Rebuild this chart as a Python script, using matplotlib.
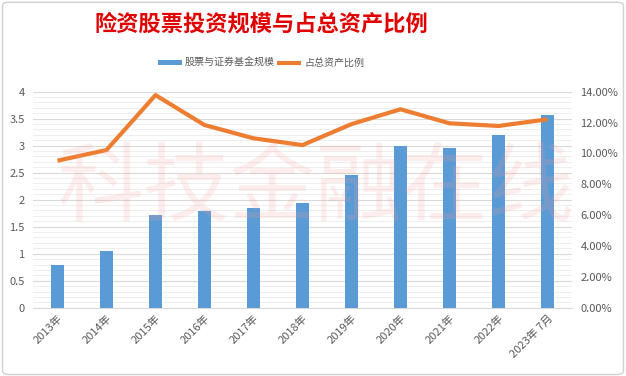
import matplotlib
matplotlib.use("Agg")
import matplotlib.pyplot as plt
from matplotlib.ticker import MultipleLocator, FuncFormatter
from matplotlib.patches import FancyBboxPatch

plt.rcParams['font.family'] = ['Noto Sans CJK SC', 'DejaVu Sans']

years = ['2013年', '2014年', '2015年', '2016年', '2017年', '2018年',
         '2019年', '2020年', '2021年', '2022年', '2023年 7月']
scale = [0.79, 1.05, 1.71, 1.79, 1.85, 1.94, 2.46, 2.99, 2.96, 3.20, 3.57]
ratio = [0.0953, 0.1022, 0.1378, 0.1184, 0.1098, 0.1054, 0.1190, 0.1286,
         0.1195, 0.1178, 0.1221]

blue = '#5B9BD5'
orange = '#ED7D31'
grey = '#595959'

fig = plt.figure(figsize=(6.26, 3.76), dpi=100)
fig.patches.append(FancyBboxPatch((0.004, 0.004), 0.992, 0.99,
                                  boxstyle='round,pad=0,rounding_size=0.01',
                                  transform=fig.transFigure, fill=False,
                                  edgecolor='#d0d0d0', linewidth=1))

ax = fig.add_axes([33 / 626, 1 - 307.7 / 376, (572 - 33) / 626, (307.7 - 91.7) / 376])
x = list(range(len(years)))
ax.bar(x, scale, width=0.28, color=blue, zorder=3, label='股票与证券基金规模')
ax.set_xlim(-0.5, len(years) - 0.5)
ax.set_ylim(0, 4)
ax.yaxis.set_major_locator(MultipleLocator(0.5))
ax.yaxis.set_minor_locator(MultipleLocator(0.1))
ax.yaxis.set_major_formatter(FuncFormatter(lambda v, p: f'{v:g}'))
ax.grid(axis='y', which='major', color='#d9d9d9', linewidth=0.8, zorder=0)
ax.grid(axis='y', which='minor', color='#ebebeb', linewidth=0.6, zorder=0)
ax.set_axisbelow(True)
for s in ['top', 'left', 'right']:
    ax.spines[s].set_visible(False)
ax.spines['bottom'].set_color('#d9d9d9')
ax.tick_params(axis='y', which='both', length=0, colors=grey, labelsize=8, pad=6)
ax.tick_params(axis='x', length=0, colors=grey, labelsize=8, pad=4)
ax.set_xticks(x)
ax.set_xticklabels(years, rotation=45, ha='right', rotation_mode='anchor')

ax2 = ax.twinx()
ax2.plot(x, ratio, color=orange, linewidth=3, zorder=4, label='占总资产比例',
         solid_capstyle='butt')
ax2.set_ylim(0, 0.14)
ax2.yaxis.set_major_locator(MultipleLocator(0.02))
ax2.yaxis.set_major_formatter(FuncFormatter(lambda v, p: f'{v * 100:.2f}%'))
for s in ['top', 'left', 'right', 'bottom']:
    ax2.spines[s].set_visible(False)
ax2.tick_params(axis='y', length=0, colors=grey, labelsize=8, pad=6)

# watermark
fig.text(0.505, 0.495, '科技金融在线', fontsize=62, color='#f4a0a0', alpha=0.18,
         ha='center', va='center', fontweight='light', zorder=10)

fig.text(0.417, 0.935, '险资股票投资规模与占总资产比例', fontsize=16, color='#e00000',
         ha='center', va='center', fontweight='bold')

h1, l1 = ax.get_legend_handles_labels()
h2, l2 = ax2.get_legend_handles_labels()
fig.legend(h1 + h2, l1 + l2, loc='center', bbox_to_anchor=(0.417, 0.832), ncol=2,
           frameon=False, fontsize=7.2, labelcolor=grey, handlelength=2.4,
           handletextpad=0.3, columnspacing=0.2, handleheight=0.5)

fig.savefig('out.png', dpi=100)
